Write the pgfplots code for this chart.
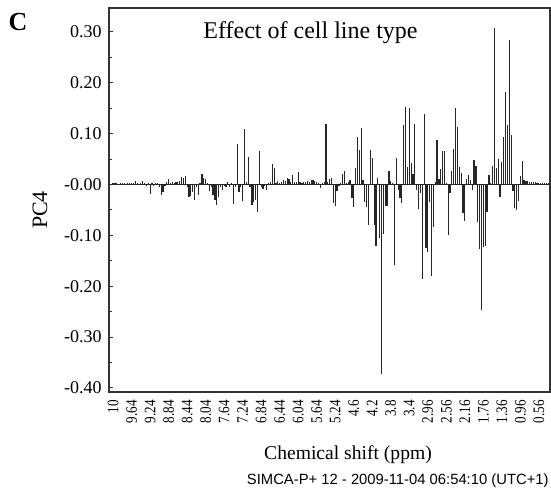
\documentclass[border=0pt]{standalone}
\usepackage{pgfplots}
\pgfplotsset{compat=1.18}
\usepackage{pgfplotstable}
\usepackage{fontspec}
\setmainfont{Liberation Serif}
\newfontfamily\arialfont{Liberation Sans}

\pgfplotstableread{
idx val
0 0.003
1 0.002
2 0.003
3 -0.002
4 0.002
5 0.003
6 0.002
7 -0.002
8 0.003
9 0.002
10 0.003
11 0.002
12 0.006
13 0.003
14 -0.002
15 0.003
16 0.006
17 0.002
18 -0.003
19 0.002
20 -0.019
21 0.002
22 -0.003
23 0.003
24 0.002
25 -0.004
26 -0.020
27 -0.014
28 -0.003
29 0.004
30 0.010
31 0.003
32 0.004
33 0.003
34 0.004
35 0.005
36 0.006
37 0.014
38 0.012
39 0.017
40 -0.004
41 -0.025
42 -0.022
43 -0.015
44 -0.030
45 -0.004
46 -0.020
47 0.003
48 0.020
49 0.012
50 0.010
51 0.003
52 -0.012
53 -0.005
54 -0.020
55 -0.030
56 -0.040
57 -0.025
58 -0.004
59 -0.010
60 -0.003
61 -0.005
62 0.005
63 -0.004
64 0.003
65 -0.038
66 -0.004
67 0.079
68 -0.015
69 -0.005
70 -0.033
71 0.110
72 0.004
73 0.054
74 -0.005
75 -0.040
76 -0.035
77 -0.030
78 -0.055
79 0.066
80 -0.004
81 -0.008
82 -0.003
83 -0.010
84 0.003
85 0.004
86 0.040
87 0.033
88 0.003
89 0.006
90 0.003
91 0.004
92 0.008
93 0.006
94 0.012
95 0.010
96 0.004
97 0.018
98 0.004
99 0.005
100 0.024
101 0.004
102 0.003
103 0.004
104 0.005
105 0.006
106 0.004
107 0.008
108 0.008
109 0.006
110 0.004
111 0.003
112 -0.006
113 0.003
114 0.004
115 0.118
116 0.004
117 0.010
118 0.013
119 -0.036
120 -0.043
121 -0.013
122 -0.003
123 0.003
124 0.020
125 0.027
126 0.003
127 0.004
128 0.008
129 -0.027
130 -0.045
131 0.033
132 0.094
133 0.067
134 0.112
135 0.008
136 -0.035
137 -0.045
138 -0.080
139 0.068
140 0.053
141 -0.079
142 -0.120
143 0.013
144 -0.105
145 -0.373
146 -0.097
147 -0.042
148 -0.042
149 0.027
150 0.007
151 0.003
152 -0.159
153 0.053
154 -0.010
155 -0.027
156 -0.037
157 0.116
158 0.153
159 0.034
160 0.151
161 0.043
162 0.020
163 0.118
164 -0.010
165 -0.049
166 -0.016
167 -0.186
168 0.138
169 -0.124
170 -0.133
171 -0.035
172 -0.179
173 -0.083
174 0.004
175 0.087
176 0.010
177 0.031
178 0.066
179 0.066
180 0.002
181 -0.100
182 -0.016
183 0.026
184 0.070
185 0.151
186 0.113
187 0.034
188 0.023
189 -0.057
190 -0.072
191 0.010
192 0.018
193 0.008
194 -0.010
195 0.048
196 0.036
197 -0.074
198 -0.127
199 -0.247
200 -0.123
201 -0.120
202 -0.054
203 0.019
204 0.003
205 0.037
206 0.307
207 0.033
208 0.050
209 -0.024
210 0.045
211 0.093
212 0.182
213 0.116
214 0.285
215 0.098
216 -0.013
217 -0.046
218 -0.050
219 -0.033
220 0.017
221 0.046
222 0.008
223 0.006
224 0.006
225 0.005
226 0.005
227 0.004
228 0.004
229 0.003
230 0.003
231 0.003
232 0.003
233 0.003
234 0.003
235 0.003
}\loadings

\begin{document}
\begin{tikzpicture}
\path[use as bounding box] (0,0) rectangle (275.5pt,245.5pt);
\begin{axis}[
  at={(54.5pt,49.5pt)}, anchor=south west,
  scale only axis, width=220.5pt, height=192pt,
  xmin=-2.2, xmax=236, ymin=-0.408, ymax=0.347,
  axis line style={black!80, line width=0.8pt},
  xtick={0,10,...,230},
  xticklabels={10,9.64,9.24,8.84,8.44,8.04,7.64,7.24,6.84,6.44,6.04,5.64,5.24,4.6,4.2,3.8,3.4,2.96,2.56,2.16,1.76,1.36,0.96,0.56},
  xticklabel style={yshift=-4pt, rotate=90, xscale=0.82, anchor=east, inner sep=0pt, font=\fontsize{8}{9}\selectfont},
  x tick style={draw=none},
  ytick={-0.4,-0.3,-0.2,-0.1,0,0.1,0.2,0.3},
  yticklabels={-0.40,-0.30,-0.20,-0.10,-0.00,0.10,0.20,0.30},
  minor y tick num=1,
  yticklabel style={anchor=east, inner sep=0pt, xshift=-3.5pt, font=\fontsize{9}{10}\selectfont},
  tick align=inside,
  major tick length=2pt, minor tick length=1.5pt,
  y tick style={black!80, line width=0.5pt},
  ytick pos=left,
]
\addplot[ycomb, black!85, line width=0.6pt, mark=none] table[x=idx, y=val] {\loadings};
\addplot[sharp plot, black!85, line width=0.6pt, mark=none] coordinates {(-3,0) (237,0)};
\end{axis}
\node[font=\fontsize{13}{15}\selectfont\bfseries] at (9pt,234.5pt) {C};
\node[font=\fontsize{12}{14}\selectfont] at (155.25pt,229pt) {Effect of cell line type};
\node[rotate=90, font=\fontsize{11}{13}\selectfont] at (20pt,140.5pt) {PC4};
\node[font=\fontsize{9.8}{12}\selectfont] at (174pt,18pt) {Chemical shift (ppm)};
\node[anchor=east, inner sep=0pt, font=\arialfont\fontsize{7.4}{8}\selectfont] at (274.5pt,5pt) {SIMCA-P+ 12 - 2009-11-04 06:54:10 (UTC+1)};
\end{tikzpicture}
\end{document}
